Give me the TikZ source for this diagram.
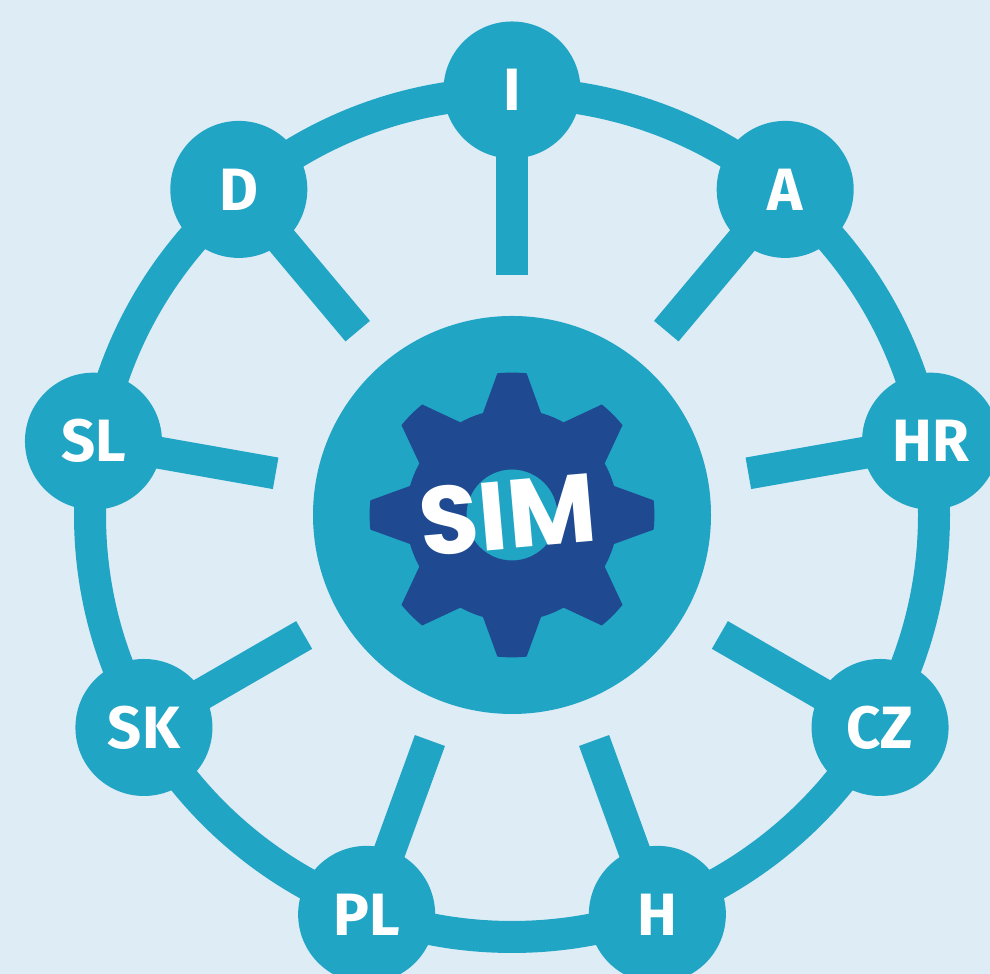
\documentclass[tikz,border=0pt]{standalone}
\usepackage{fontspec}
\usepackage{xcolor}
\setmainfont{Fira Sans}
\newfontfamily\simfont{Poppins}
\usetikzlibrary{calc}
\usetikzlibrary{backgrounds}
\definecolor{simbg}{HTML}{DEECF6}
\definecolor{simteal}{HTML}{20A5C5}
\definecolor{simblue}{HTML}{1F4A91}
\tikzset{
	country/.style={circle, fill=simteal, text=white, minimum size=1.37cm, inner sep=0pt, font=\fontsize{17pt}{17pt}\selectfont\bfseries},
	spoke/.style={draw=simteal, line width=.32cm}
}

\begin{document}
\begin{tikzpicture}[>=stealth]
\useasboundingbox (0,0) rectangle (9.9,9.74);
\clip (0,0) rectangle (9.9,9.74);
\coordinate (c) at (5.12,4.59);

\begin{scope}[on background layer]
	\fill[simbg] (0,0) rectangle (9.9,9.74);
	\draw[spoke] (c) circle (4.22);
\end{scope}

\foreach \a/\n in {90/I,50/A,10/HR,-30/CZ,-70/H,-110/PL,-150/SK,170/SL,130/D}{
	\node[country] (\n) at ($(c)+(\a:4.25)$) {\n};
	\coordinate (e\n) at ($(c)+(\a:2.4)$);
	\begin{scope}[on background layer]
		\draw[spoke] (\n.center) -- (e\n);
	\end{scope}
}

\node[circle, fill=simteal, minimum size=3.98cm, inner sep=0pt] (hub) at (c) {};

\begin{scope}[shift={(c)}]
	\fill[simblue, even odd rule] (-15.9:1.06)
		\foreach \g in {0,45,...,315}{
			-- (\g-5.9:1.424) arc[start angle=\g-5.9, end angle=\g+5.9, radius=1.424]
			-- (\g+15.9:1.06) arc[start angle=\g+15.9, end angle=\g+29.1, radius=1.06]
		} -- cycle
		(0,0) circle (.455);
\end{scope}

\node[text=white, rotate=5, font=\fontsize{27.5pt}{27.5pt}\simfont\bfseries] (sim) at ($(c)+(-.045,0)$) {SIM};
\end{tikzpicture}
\end{document}
